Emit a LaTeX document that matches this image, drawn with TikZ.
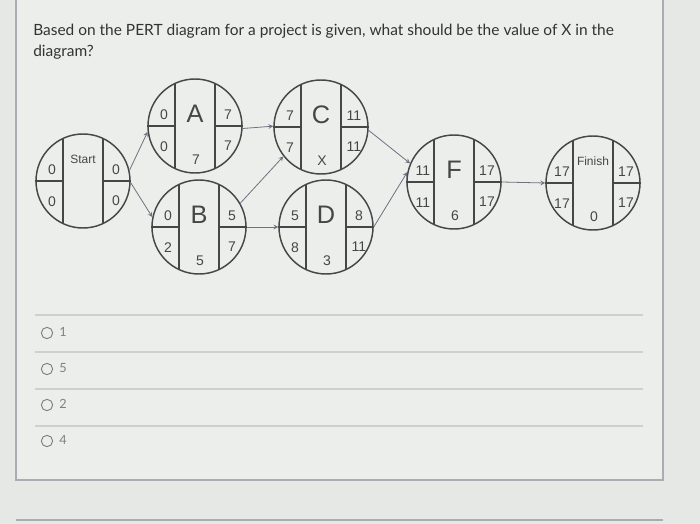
\documentclass[tikz,border=0pt]{standalone}
\usepackage{fontspec}
\setmainfont{Lato}
\newfontfamily\pertfont{Liberation Sans}
\usetikzlibrary{arrows}
\usetikzlibrary{positioning}
\definecolor{paper}{HTML}{E6E8E6}
\definecolor{card}{HTML}{ECEEEC}
\definecolor{frame}{HTML}{A9ADB1}
\definecolor{rule}{HTML}{CDD0D1}
\definecolor{ink}{HTML}{464646}
\definecolor{wire}{HTML}{6C7280}
\definecolor{faint}{HTML}{7E8082}

\begin{document}
\begin{tikzpicture}
		[x=0.75pt,y=-0.75pt,
		activity/.style={circle,draw=ink,line width=1.1pt,minimum size=70.5pt,inner sep=0pt},
		cell/.style={font=\pertfont\fontsize{10.5}{12}\selectfont,text=ink,inner sep=0pt},
		letter/.style={font=\pertfont\fontsize{19}{22}\selectfont,text=ink,inner sep=0pt},
		endname/.style={font=\pertfont\fontsize{9}{11}\selectfont,text=ink,inner sep=0pt,yshift=7.5pt},
		link/.style={->,>=stealth,line width=0.6pt,draw=wire},
		choice/.style={font=\fontsize{9.5}{11}\selectfont,text=faint,inner sep=0pt,anchor=west}]
		\useasboundingbox (0,0) rectangle (700,524);
		\fill[paper] (0,0) rectangle (700,524);
		\draw[frame,fill=card,line width=0.8pt] (16,-5) rectangle (663,480);
		\draw[frame,line width=0.8pt] (16,520) -- (663,520);
		
		% question
		\node[anchor=base west,inner sep=0pt,text=black!80,font=\fontsize{11.6}{14}\selectfont] (q1) at (33,36)
		{Based on the PERT diagram for a project is given, what should be the value of X in the};
		\node[anchor=base west,inner sep=0pt,text=black!80,font=\fontsize{11.6}{14}\selectfont] (q2) at (33,57) {diagram?};
		
		% activities: name/x/y/ES/label/EF/LS/duration/LF/label style
		\foreach \n/\x/\y/\es/\lab/\ef/\ls/\d/\lf/\st in 
		{start/83/181/0/Start/0/0//0/endname, A/195/126/0/A/7/0/7/7/letter,
		 B/199/227/0/B/5/2/5/7/letter, C/321/127/7/C/11/7/X/11/letter,
		 D/326/227/5/D/8/8/3/11/letter, F/454/182/11/F/17/11/6/17/letter,
		 finish/593/183/17/Finish/17/17/0/17/endname}
		{
		\node[activity] (\n) at (\x,\y) {};
		\draw[ink,line width=1.1pt] ([shift={(-20,-42.5)}]\n.center) -- ([shift={(-20,42.5)}]\n.center);
		\draw[ink,line width=1.1pt] ([shift={(20,-42.5)}]\n.center) -- ([shift={(20,42.5)}]\n.center);
		\draw[ink,line width=1.1pt] (\n.west) -- ([shift={(-20,0)}]\n.center);
		\draw[ink,line width=1.1pt] ([shift={(20,0)}]\n.center) -- (\n.east);
		\node[cell] (\n-es) at ([shift={(-31,-11)}]\n.center) {\es};
		\node[cell] (\n-ef) at ([shift={(33,-11)}]\n.center) {\ef};
		\node[cell] (\n-ls) at ([shift={(-31,21)}]\n.center) {\ls};
		\node[cell] (\n-lf) at ([shift={(33,20)}]\n.center) {\lf};
		\node[\st] (\n-name) at ([shift={(0,-12)}]\n.center) {\lab};
		\node[cell] (\n-dur) at ([shift={(1,34)}]\n.center) {\d};
		}
		
		\foreach \from/\to in 
		{start.13/A.187, start.-2/B.168, A.-3/C.179, B.30/C.218,
		 B.east/D.west, C.-4/F.157, D.0/F.168, F.east/finish.west}
		\draw[link] (\from) -- (\to);
		
		% answers
		\foreach \i/\v/\y in {1/1/333, 2/5/369, 3/2/405, 4/4/441}
		{
		\node[circle,draw=faint,line width=0.7pt,minimum size=8.5pt,inner sep=0pt] (r\i) at (47,\y) {};
		\node[choice] (o\i) at (59,\y-1) {\v};
		}
		\foreach \y in {315, 352, 389, 426}
		\draw[rule,line width=0.8pt] (35,\y) -- (643,\y);
		\end{tikzpicture}
\end{document}
